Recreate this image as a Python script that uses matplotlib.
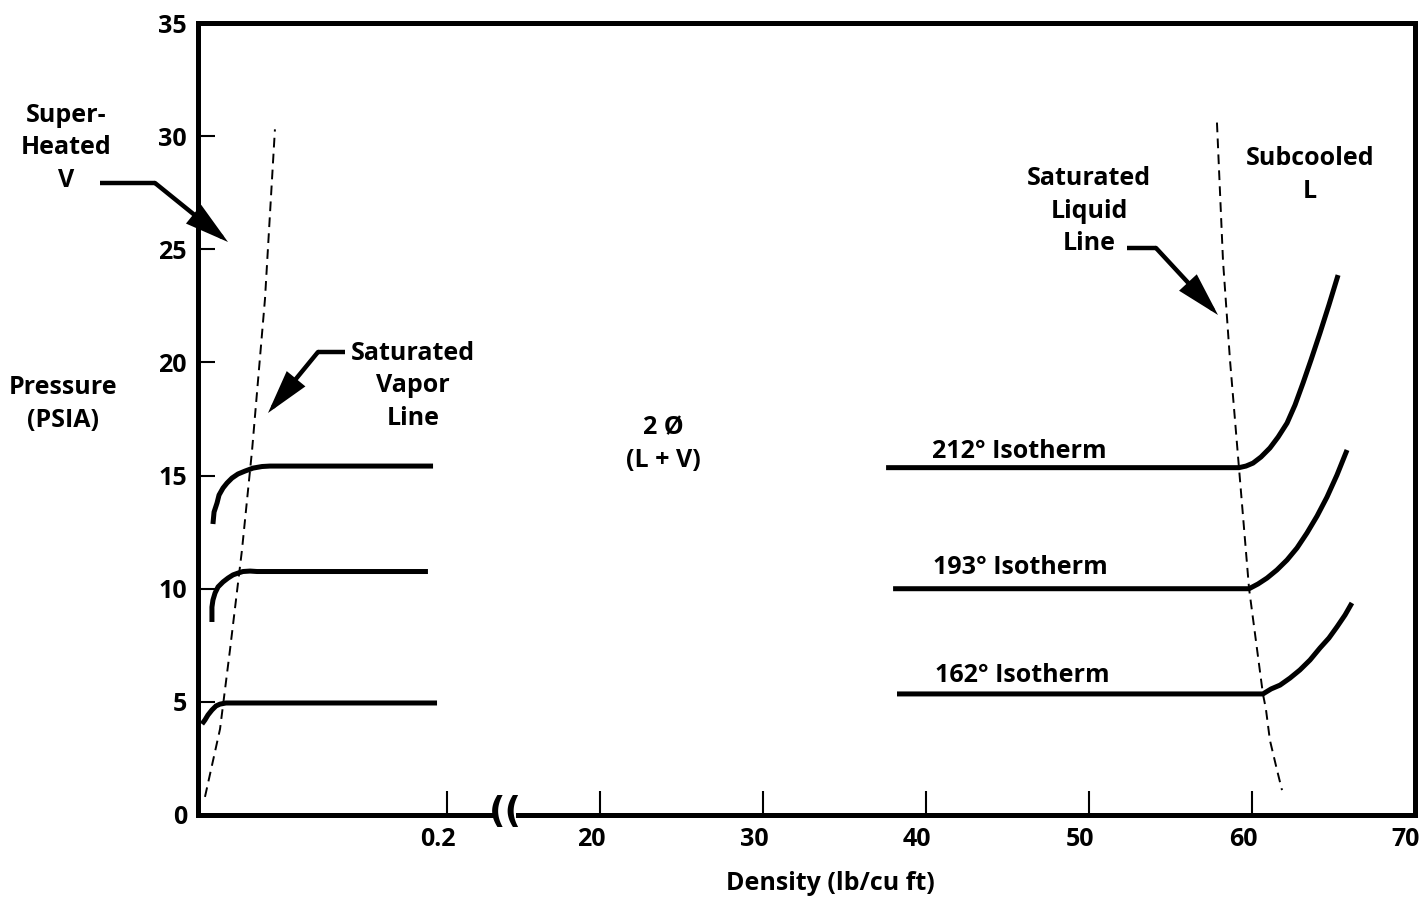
"""
Pressure vs density sketch for water: saturated vapour / liquid lines and
three isotherms, drawn on a broken density axis (0-0.2 | 20-70 lb/cu ft).
"""

import matplotlib
matplotlib.use("Agg")
import matplotlib.pyplot as plt
import matplotlib.transforms as mtransforms
from matplotlib.lines import Line2D
from matplotlib.patches import Rectangle, FancyArrowPatch

# ── Data: vapour side (density 0 - 0.2 lb/cu ft) ──────────────────────────────
vap212_x = [0.0120, 0.0129, 0.0153, 0.0169, 0.0201, 0.0233, 0.0273, 0.0321,
            0.0378, 0.0442, 0.0514, 0.0578, 0.1888]
vap212_y = [12.86, 13.39, 13.79, 14.14, 14.45, 14.67, 14.89, 15.07,
            15.20, 15.33, 15.40, 15.42, 15.42]

vap193_x = [0.0112, 0.0112, 0.0120, 0.0137, 0.0161, 0.0201, 0.0241, 0.0281,
            0.0321, 0.0361, 0.0418, 0.0474, 0.1847]
vap193_y = [8.53, 9.19, 9.50, 9.81, 10.08, 10.30, 10.47, 10.61,
            10.69, 10.76, 10.78, 10.76, 10.76]

vap162_x = [0.0032, 0.0056, 0.0080, 0.0112, 0.0145, 0.0177, 0.0225, 0.1920]
vap162_y = [4.02, 4.20, 4.42, 4.64, 4.82, 4.90, 4.95, 4.95]

sat_vap_x = [0.0056, 0.0177, 0.0257, 0.0353, 0.0434, 0.0538, 0.0618]
sat_vap_y = [0.8, 3.8, 7.3, 11.7, 16.1, 22.8, 30.3]

# ── Data: liquid side (density 20 - 70 lb/cu ft) ──────────────────────────────
liq212_x = [37.55, 59.20, 59.63, 60.06, 60.55, 61.10, 61.60, 62.15, 62.64,
            63.13, 63.62, 64.17, 64.72, 65.28]
liq212_y = [15.35, 15.35, 15.42, 15.55, 15.82, 16.22, 16.70, 17.32, 18.12,
            19.09, 20.11, 21.30, 22.54, 23.86]

liq193_x = [37.98, 59.82, 60.37, 60.92, 61.53, 62.15, 62.76, 63.37, 63.99,
            64.60, 65.21, 65.83]
liq193_y = [10.0, 10.0, 10.21, 10.47, 10.83, 11.27, 11.80, 12.46, 13.21,
            14.05, 15.02, 16.13]

liq162_x = [38.22, 60.67, 61.17, 61.72, 62.33, 62.94, 63.56, 64.17, 64.72,
            65.21, 65.71, 66.13]
liq162_y = [5.35, 5.35, 5.57, 5.74, 6.05, 6.41, 6.85, 7.38, 7.82,
            8.31, 8.84, 9.37]

sat_liq_x = [57.85, 58.22, 58.65, 59.20, 59.82, 60.67, 60.85, 61.10, 61.53, 61.84]
sat_liq_y = [30.6, 24.5, 20.1, 15.35, 10.0, 5.35, 4.7, 3.3, 2.0, 1.1]

y_ticks = [0, 5, 10, 15, 20, 25, 30, 35]
x_ticks_low = [0.2]
x_ticks_high = [20, 30, 40, 50, 60, 70]

# ── Figure / layout (pixel based) ─────────────────────────────────────────────
W, H = 1425, 902
plt.rcParams["font.family"] = ["Open Sans", "DejaVu Sans"]
plt.rcParams["font.weight"] = "bold"

fig = plt.figure(figsize=(W / 100, H / 100), dpi=100)

def fx(px):
    return px / W

def fy(py):
    return 1 - py / H

LEFT, JOIN, RIGHT, TOP, BOTTOM = 198, 505, 1415, 23, 815
ax1 = fig.add_axes([fx(LEFT), fy(BOTTOM), (JOIN - LEFT) / W, (BOTTOM - TOP) / H])
ax2 = fig.add_axes([fx(JOIN), fy(BOTTOM), (RIGHT - JOIN) / W, (BOTTOM - TOP) / H])

ax1.set_xlim(0, 0.2466)
ax2.set_xlim(14.17, 70)
for ax in (ax1, ax2):
    ax.set_ylim(0, 35)
    for s in ax.spines.values():
        s.set_linewidth(3.6)
ax1.spines["right"].set_visible(False)
ax2.spines["left"].set_visible(False)

ISO = dict(color="black", lw=3.6, solid_capstyle="butt", solid_joinstyle="round")
DASH = dict(color="black", lw=1.4, linestyle=(0, (5, 3.2)))

ax1.plot(vap212_x, vap212_y, **ISO)
ax1.plot(vap193_x, vap193_y, **ISO)
ax1.plot(vap162_x, vap162_y, **ISO)
ax1.plot(sat_vap_x, sat_vap_y, **DASH)

ax2.plot(liq212_x, liq212_y, **ISO)
ax2.plot(liq193_x, liq193_y, **ISO)
ax2.plot(liq162_x, liq162_y, **ISO)
ax2.plot(sat_liq_x, sat_liq_y, **DASH)

# ── Ticks ─────────────────────────────────────────────────────────────────────
ax1.set_yticks(y_ticks)
ax1.set_yticklabels([str(v) for v in y_ticks])
ax1.tick_params(axis="y", direction="in", length=12, width=1.5, pad=8,
                labelsize=18)
ax2.set_yticks([])

ax1.set_xticks(x_ticks_low)
ax1.set_xticklabels(["0.2"])
ax2.set_xticks(x_ticks_high)
ax2.set_xticklabels([str(v) for v in x_ticks_high])
shift = mtransforms.ScaledTranslation(-9 / 100, 0, fig.dpi_scale_trans)
for ax in (ax1, ax2):
    ax.tick_params(axis="x", direction="in", length=17, width=1.5, pad=9,
                   labelsize=18)
    for lab in ax.get_xticklabels():
        lab.set_transform(lab.get_transform() + shift)

# ── Axis break mark ───────────────────────────────────────────────────────────
fig.patches.append(Rectangle((fx(494), fy(820)), 22 / W, 10 / H,
                             transform=fig.transFigure, facecolor="white",
                             edgecolor="none", zorder=5))
fig.text(fx(505), fy(812), "((", fontsize=26, ha="center", va="center",
         family="DejaVu Sans", zorder=6)

# ── Text labels ───────────────────────────────────────────────────────────────
TXT = dict(fontsize=18, fontweight="bold", ha="center", va="center",
           linespacing=1.42)
fig.text(fx(66), fy(148), "Super-\nHeated\nV", **TXT)
fig.text(fx(63), fy(404), "Pressure\n(PSIA)", **TXT)
fig.text(fx(413), fy(386), "Saturated\nVapor\nLine", **TXT)
fig.text(fx(663), fy(444), "2 Ø\n(L + V)", **TXT)
fig.text(fx(1089), fy(211), "Saturated\nLiquid\nLine", **TXT)
fig.text(fx(1310), fy(175), "Subcooled\nL", **TXT)
fig.text(fx(830), fy(884), "Density (lb/cu ft)", **TXT)
for txt, px, py in [("212° Isotherm", 932, 452),
                    ("193° Isotherm", 933, 568),
                    ("162° Isotherm", 935, 676)]:
    fig.text(fx(px), fy(py), txt, fontsize=18, fontweight="bold",
             ha="left", va="center")

# ── Arrows (horizontal lead + diagonal arrow) ─────────────────────────────────
def pointer(start, corner, tip):
    fig.lines.append(Line2D([fx(start[0]), fx(corner[0])],
                            [fy(start[1]), fy(corner[1])],
                            transform=fig.transFigure, color="black", lw=3.2,
                            solid_capstyle="butt"))
    fig.add_artist(FancyArrowPatch(
        (fx(corner[0]), fy(corner[1])), (fx(tip[0]), fy(tip[1])),
        transform=fig.transFigure,
        arrowstyle="-|>,head_length=1.1,head_width=0.3", mutation_scale=22,
        color="black", lw=3.2, shrinkA=0, shrinkB=0, joinstyle="miter"))

pointer((100, 183), (155, 183), (228, 242))
pointer((345, 352), (318, 352), (268, 413))
pointer((1127, 248), (1156, 248), (1218, 315))

fig.savefig("out.png", dpi=100)
